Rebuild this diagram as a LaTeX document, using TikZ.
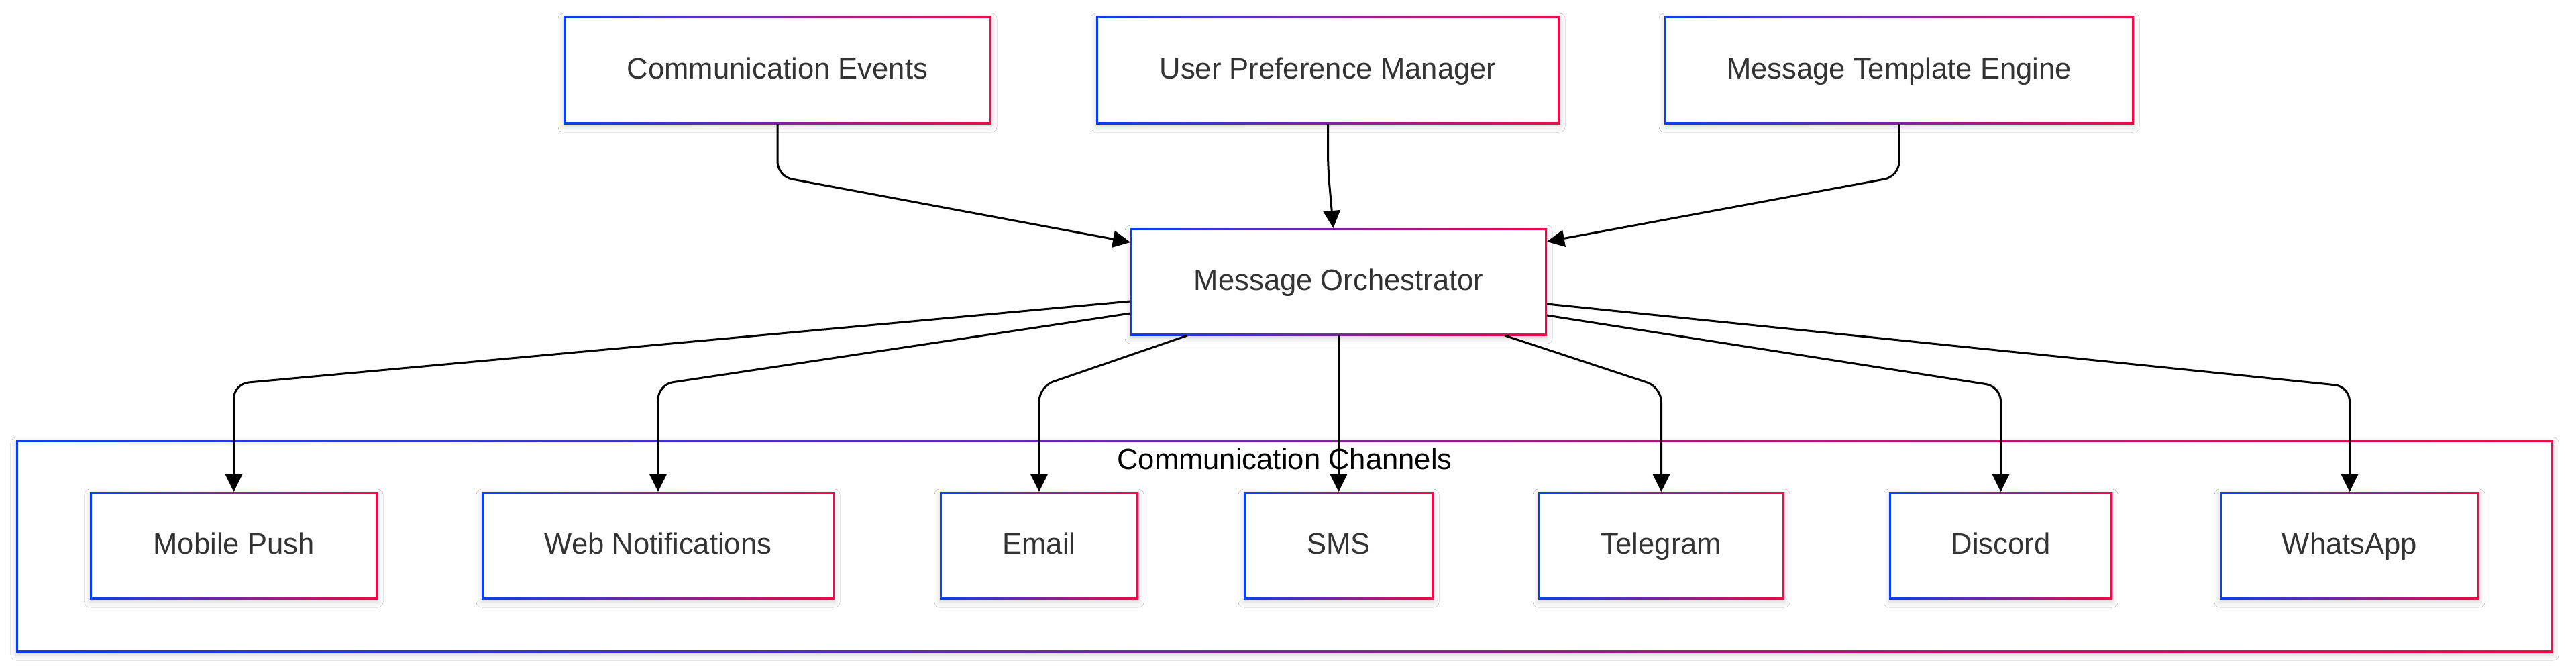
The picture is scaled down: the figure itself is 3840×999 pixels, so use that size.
\documentclass[tikz,border=0pt]{standalone}
\usepackage{fontspec}
\setmainfont{Liberation Sans}
\usetikzlibrary{arrows.meta,calc,shadows.blur}
\definecolor{cblue}{RGB}{8,64,245}
\definecolor{cred}{RGB}{245,8,72}
\definecolor{txtgray}{RGB}{51,51,51}
\tikzset{
  lbl/.style={font=\fontsize{12.4}{15}\selectfont, text=txtgray, inner sep=0pt, outer sep=0pt, text height=0.72em, text depth=0pt},
  arr/.style={draw=black, line width=0.03cm, -{Triangle[length=0.26cm,width=0.25cm]}, rounded corners=0.22cm},
  shad/.style={blur shadow={shadow xshift=0cm, shadow yshift=-0.04cm, shadow blur radius=0.08cm, shadow opacity=18}}
}
\newcommand{\gradbox}[6]{%
  \shade[shad, left color=cblue, right color=cred] ({#2-#4/2},{#3-#5/2}) rectangle ({#2+#4/2},{#3+#5/2});
  \fill[white] ({#2-#4/2+3},{#3-#5/2+3}) rectangle ({#2+#4/2-3},{#3+#5/2-3});
  \node[lbl, minimum width={#4*0.01cm}, minimum height={#5*0.01cm}] (#1) at (#2,#3) {#6};
}
\begin{document}
\begin{tikzpicture}[x=0.01cm, y=-0.01cm]
\useasboundingbox (0,0) rectangle (3840,999);
\fill[white] (0,0) rectangle (3840,999);
% container
\gradbox{cc}{1915}{814}{3782}{316}{}
\node[lbl, text=black] (cclabel) at (1915,687) {Communication Channels};
% top row
\gradbox{ce}{1159}{104.5}{638}{161}{Communication Events}
\gradbox{up}{1979.5}{104.5}{691}{161}{User Preference Manager}
\gradbox{te}{2831}{104.5}{700}{161}{Message Template Engine}
% orchestrator
\gradbox{mo}{1995.5}{420}{621}{160}{Message Orchestrator}
% channels
\gradbox{mp}{348.5}{813}{429}{160}{Mobile Push}
\gradbox{wn}{981}{813}{526}{160}{Web Notifications}
\gradbox{em}{1549}{813}{296}{160}{Email}
\gradbox{sms}{1995.5}{813}{283}{160}{SMS}
\gradbox{tg}{2476.5}{813}{367}{160}{Telegram}
\gradbox{dc}{2982.5}{813}{333}{160}{Discord}
\gradbox{wa}{3502.5}{813}{387}{160}{WhatsApp}
% top connectors
\draw[arr] (ce.south) -- ($(ce.south)+(0,78)$) -- ($(mo.north west)+(0,21)$);
\draw[arr] (up.south) -- ($(up.south)+(0,65)$) -- ($(mo.north)+(-8,0)$);
\draw[arr] (te.south) -- ($(te.south)+(0,78)$) -- ($(mo.north east)+(0,20)$);
% bottom connectors
\draw[arr] ($(mo.north west)+(0,109)$) -- ($(mp.north)+(0,-161)$) -- (mp.north);
\draw[arr] ($(mo.north west)+(0,127)$) -- ($(wn.north)+(0,-160)$) -- (wn.north);
\draw[arr] ($(mo.south west)+(85,0)$) -- ($(em.north)+(0,-157)$) -- (em.north);
\draw[arr] (mo.south) -- (sms.north);
\draw[arr] ($(mo.south east)+(-63,0)$) -- ($(tg.north)+(0,-156)$) -- (tg.north);
\draw[arr] ($(mo.north east)+(0,130)$) -- ($(dc.north)+(0,-157)$) -- (dc.north);
\draw[arr] ($(mo.north east)+(0,113)$) -- ($(wa.north)+(0,-157)$) -- (wa.north);
\end{tikzpicture}
\end{document}
